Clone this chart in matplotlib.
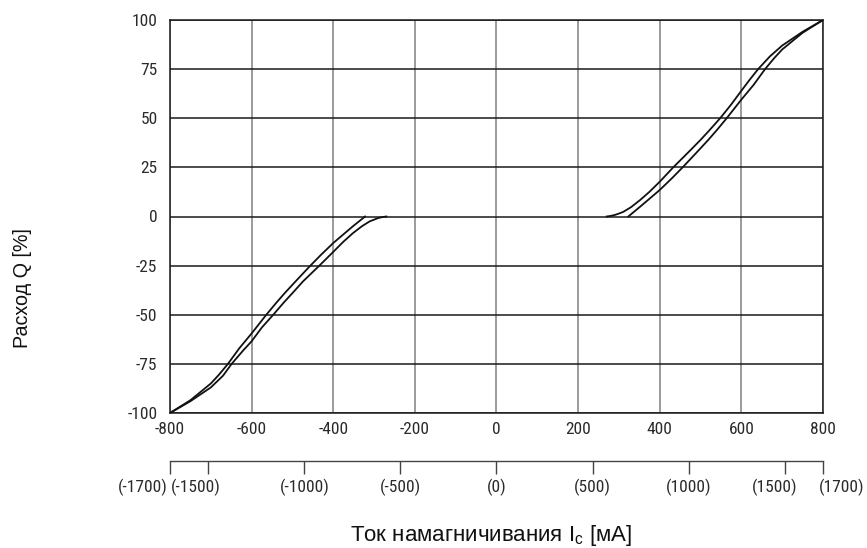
import matplotlib.pyplot as plt
from matplotlib.ticker import FixedLocator, NullFormatter

plt.rcParams['axes.unicode_minus'] = False

# ток, мА (шкала -800..800) и расход Q, %
up_right_x = [270, 280, 290, 300, 311, 330, 352, 375, 400, 433, 474, 500, 520, 548,
              575, 600, 620, 641, 670, 700, 750, 800]
up_right_y = [0, 0.3, 0.8, 1.5, 2.4, 4.8, 8.4, 12.6, 17.7, 25, 33.5, 39, 43.5, 50,
              57, 64, 69.5, 75, 81.5, 87, 94, 100]
lo_right_x = [323, 352, 400, 430, 456, 490, 519, 540, 564, 600, 630, 658, 680, 700,
              750, 800]
lo_right_y = [0, 5, 13.5, 19.5, 25, 32.5, 39, 44, 50, 59.5, 67, 75, 80.5, 85,
              93.5, 100]

up_left_x = [-800, -750, -700, -680, -658, -630, -600, -564, -540, -519, -490, -456,
             -430, -400, -352, -322]
up_left_y = [-100, -93.5, -85, -80.5, -75, -67, -59.5, -50, -44, -39, -32.5, -25,
             -19.5, -13.5, -5, 0]
lo_left_x = [-800, -750, -700, -670, -649, -620, -600, -575, -547, -520, -500, -474,
             -434, -400, -375, -352, -330, -311, -290, -280, -270]
lo_left_y = [-100, -94, -87, -81, -75, -68, -63.5, -56.5, -50, -43.5, -39, -33,
             -25, -18, -12.8, -8.5, -5, -2.5, -0.8, -0.3, 0]

x_ticks = [-800, -600, -400, -200, 0, 200, 400, 600, 800]
y_ticks = [-100, -75, -50, -25, 0, 25, 50, 75, 100]
coil_ticks = [-1700, -1500, -1000, -500, 0, 500, 1000, 1500, 1700]
coil_labels = ['(' + str(v) + ')' for v in coil_ticks]

tick_font = {'family': ['Roboto Condensed', 'Roboto', 'DejaVu Sans'], 'size': 12.5,
             'color': '#2a2a2a'}
label_font = {'family': ['Liberation Sans', 'DejaVu Sans'], 'color': '#111111'}

fig = plt.figure(figsize=(8.67, 5.48), dpi=100)
ax = fig.add_axes([170 / 867, 1 - 413 / 548, 653 / 867, 393 / 548])

for xv in x_ticks:
    ax.axvline(xv, color='#808080', lw=1.1, zorder=1)
for yv in y_ticks:
    ax.axhline(yv, color='#1a1a1a', lw=1.1, zorder=1)

for xs, ys in [(up_right_x, up_right_y), (lo_right_x, lo_right_y),
               (up_left_x, up_left_y), (lo_left_x, lo_left_y)]:
    ax.plot(xs, ys, color='#111111', lw=1.3, zorder=3)

ax.set_xlim(-800, 800)
ax.set_ylim(-100, 100)
ax.set_xticks(x_ticks)
ax.set_yticks(y_ticks)
ax.set_xticklabels([str(v) for v in x_ticks], fontdict=tick_font)
ax.set_yticklabels([str(v) for v in y_ticks], fontdict=tick_font)
ax.tick_params(axis='x', length=0, pad=6.5)
ax.tick_params(axis='y', length=0, pad=9)
for sp in ax.spines.values():
    sp.set_color('#1a1a1a')
    sp.set_linewidth(1.1)

# вторая шкала: ток катушки
sec = ax.secondary_xaxis(-0.1218, functions=(lambda v: v * 1700 / 800,
                                             lambda v: v * 800 / 1700))
sec.xaxis.set_major_locator(FixedLocator(coil_ticks))
sec.xaxis.set_major_formatter(NullFormatter())
sec.tick_params(direction='out', length=9.6, width=1.0, color='#444444')
sec.spines['bottom'].set_color('#444444')
sec.spines['bottom'].set_linewidth(1.0)

# подписи второй шкалы (крайние сдвинуты, как на оригинале)
shifts = {-1700: ('right', -2), -1500: ('left', -38), 1500: ('center', -10),
          1700: ('right', 42)}
for v, lab in zip(coil_ticks, coil_labels):
    ha, dx = shifts.get(v, ('center', 0))
    ax.annotate(lab, xy=(v * 800 / 1700, -0.1896), xycoords=ax.get_xaxis_transform(),
                xytext=(dx, 0), textcoords='offset pixels', ha=ha, va='center',
                annotation_clip=False, **tick_font)

fig.text(491 / 867, 1 - 541.5 / 548, 'Ток намагничивания I$_\\mathregular{c}$ [мА]',
         ha='center', va='baseline', size=16, **label_font)
fig.text(23 / 867, 1 - 288 / 548, 'Расход Q [%]', rotation=90,
         ha='center', va='center', size=14.2, **label_font)

fig.savefig('out.png', dpi=100)
